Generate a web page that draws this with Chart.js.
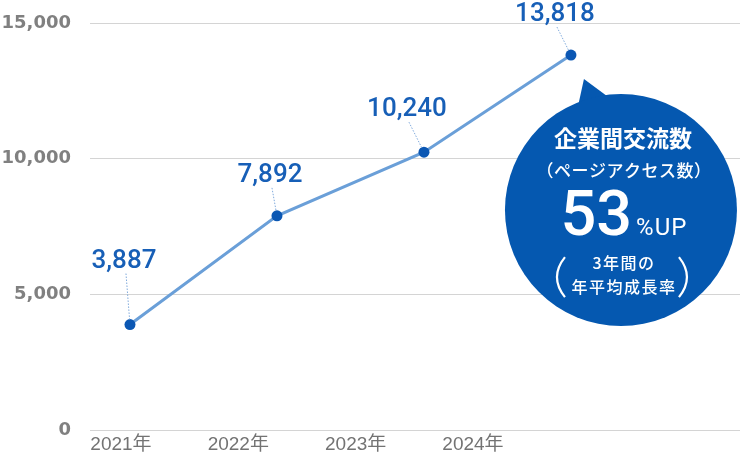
<!DOCTYPE html>
<html>
<head>
<meta charset="utf-8">
<script src="https://cdn.jsdelivr.net/npm/chart.js@4.4.1/dist/chart.umd.min.js"></script>
<style>
  html, body { margin: 0; padding: 0; background: #ffffff; }
  canvas { display: block; }
</style>
</head>
<body>
<canvas id="c" width="740" height="456"></canvas>
<script>
// ---- data ----
const yearValues = [2021, 2022, 2023, 2024];
const xTickLabels = ['2021年', '2022年', '2023年', '2024年'];
const pageViews = [3887, 7892, 10240, 13818];
const yTicks = [0, 5000, 10000, 15000];

// ---- styling / layout ----
const LINE_COLOR = '#6a9fd8';
const POINT_COLOR = '#0b57b3';
const LABEL_COLOR = '#175fb7';
const BUBBLE_COLOR = '#0558b0';
// label anchor offsets (px) relative to each point: [dx of text centre, dy of baseline]
const labelOffsets = [[-6, -57], [-7, -34], [-17, -36], [-16, -34]];

const fmt = v => v.toLocaleString('en-US');

const labelPlugin = {
  id: 'valueLabels',
  afterDatasetsDraw(chart) {
    const ctx = chart.ctx;
    const meta = chart.getDatasetMeta(0);
    ctx.save();
    meta.data.forEach((pt, i) => {
      const [dx, dy] = labelOffsets[i];
      const tx = pt.x + dx, ty = pt.y + dy;
      // dotted leader
      const sx = tx + 2, sy = ty + 6;
      const vx = pt.x - sx, vy = pt.y - sy;
      const len = Math.hypot(vx, vy);
      const ex = pt.x - vx / len * 5, ey = pt.y - vy / len * 5;
      ctx.beginPath();
      ctx.setLineDash([1.5, 1.5]);
      ctx.strokeStyle = '#7fa9db';
      ctx.lineWidth = 1;
      ctx.moveTo(sx, sy);
      ctx.lineTo(ex, ey);
      ctx.stroke();
      ctx.setLineDash([]);
      ctx.fillStyle = LABEL_COLOR;
      ctx.font = '500 26px Roboto, "Liberation Sans", sans-serif';
      ctx.textAlign = 'center';
      ctx.textBaseline = 'alphabetic';
      ctx.fillText(fmt(pageViews[i]), tx, ty);
    });
    ctx.restore();
  },
  afterDraw(chart) {
    const ctx = chart.ctx;
    const meta = chart.getDatasetMeta(0);
    const last = meta.data[meta.data.length - 1];
    const cx = last.x + 50, cy = last.y + 155, r = 116;
    ctx.save();
    ctx.fillStyle = BUBBLE_COLOR;
    // tail
    ctx.beginPath();
    ctx.moveTo(last.x + 13, last.y + 24);
    ctx.lineTo(last.x + 6, last.y + 56);
    ctx.lineTo(last.x + 40, last.y + 44);
    ctx.closePath();
    ctx.fill();
    // circle
    ctx.beginPath();
    ctx.arc(cx, cy, r, 0, Math.PI * 2);
    ctx.fill();

    ctx.fillStyle = '#ffffff';
    ctx.textAlign = 'center';
    ctx.textBaseline = 'middle';
    ctx.font = '700 23px "Noto Sans CJK JP", sans-serif';
    ctx.fillText('企業間交流数', cx + 2, cy - 72);
    ctx.font = '500 17px "Noto Sans CJK JP", sans-serif';
    ctx.letterSpacing = '0.5px';
    ctx.fillText('（ページアクセス数）', cx + 3, cy - 40);
    ctx.letterSpacing = '0px';

    ctx.textBaseline = 'alphabetic';
    ctx.textAlign = 'left';
    ctx.font = '500 63px Roboto, sans-serif';
    const bigW = ctx.measureText('53').width;
    ctx.font = '400 24px Roboto, sans-serif';
    ctx.letterSpacing = '1px';
    const smallW = ctx.measureText('%UP').width;
    ctx.letterSpacing = '0px';
    const startX = cx + 3 - (bigW + 4 + smallW) / 2;
    ctx.font = '500 63px Roboto, sans-serif';
    ctx.fillText('53', startX, cy + 25);
    ctx.font = '400 24px Roboto, sans-serif';
    ctx.letterSpacing = '1px';
    ctx.fillText('%UP', startX + bigW + 4, cy + 25);
    ctx.letterSpacing = '0px';

    ctx.textAlign = 'center';
    ctx.textBaseline = 'middle';
    ctx.font = '500 16px "Noto Sans CJK JP", sans-serif';
    ctx.letterSpacing = '1.5px';
    ctx.fillText('3年間の', cx + 3, cy + 53);
    ctx.fillText('年平均成長率', cx + 3, cy + 77);
    ctx.letterSpacing = '0px';

    // parentheses
    ctx.strokeStyle = '#ffffff';
    ctx.lineWidth = 2.2;
    ctx.beginPath();
    ctx.moveTo(cx - 56, cy + 47);
    ctx.quadraticCurveTo(cx - 72, cy + 67, cx - 56, cy + 87);
    ctx.stroke();
    ctx.beginPath();
    ctx.moveTo(cx + 58, cy + 47);
    ctx.quadraticCurveTo(cx + 74, cy + 67, cx + 58, cy + 87);
    ctx.stroke();
    ctx.restore();
  }
};

new Chart(document.getElementById('c'), {
  type: 'line',
  data: {
    datasets: [{
      data: yearValues.map((x, i) => ({ x: x, y: pageViews[i] })),
      borderColor: LINE_COLOR,
      borderWidth: 3,
      pointRadius: 5.5,
      pointBackgroundColor: POINT_COLOR,
      pointBorderWidth: 0,
      tension: 0,
      xAxisID: 'x',
      yAxisID: 'y'
    }]
  },
  options: {
    responsive: false,
    animation: false,
    devicePixelRatio: 1,
    layout: { autoPadding: false, padding: { top: 23, left: 0, right: 0, bottom: 0 } },
    plugins: { legend: { display: false }, tooltip: { enabled: false } },
    scales: {
      y: {
        min: 0, max: 15000,
        afterBuildTicks: s => { s.ticks = yTicks.map(v => ({ value: v })); },
        afterFit: s => { s.width = 90; s.paddingTop = 0; s.paddingBottom = 0; },
        border: { display: false },
        grid: { color: '#d4d4d4', lineWidth: 1, drawTicks: false },
        ticks: {
          padding: 19,
          color: '#808080',
          font: { family: '"DejaVu Sans", sans-serif', size: 18, weight: 'bold' },
          callback: v => fmt(v)
        }
      },
      x: {
        type: 'linear',
        display: false,
        min: 2020.728, max: 2025.15
      },
      xl: {
        type: 'linear',
        position: 'bottom',
        min: 2020.736, max: 2026.276,
        afterBuildTicks: s => { s.ticks = yearValues.map(v => ({ value: v })); },
        afterFit: s => { s.height = 26; s.paddingLeft = 0; s.paddingRight = 0; },
        border: { display: false },
        grid: { display: false, drawTicks: false },
        ticks: {
          padding: 3,
          color: '#737373',
          maxRotation: 0,
          font: { family: '"Liberation Sans Narrow", "Liberation Sans", "Noto Sans CJK JP", sans-serif', size: 19 },
          callback: v => xTickLabels[yearValues.indexOf(v)]
        }
      }
    }
  },
  plugins: [labelPlugin]
});
</script>
</body>
</html>
